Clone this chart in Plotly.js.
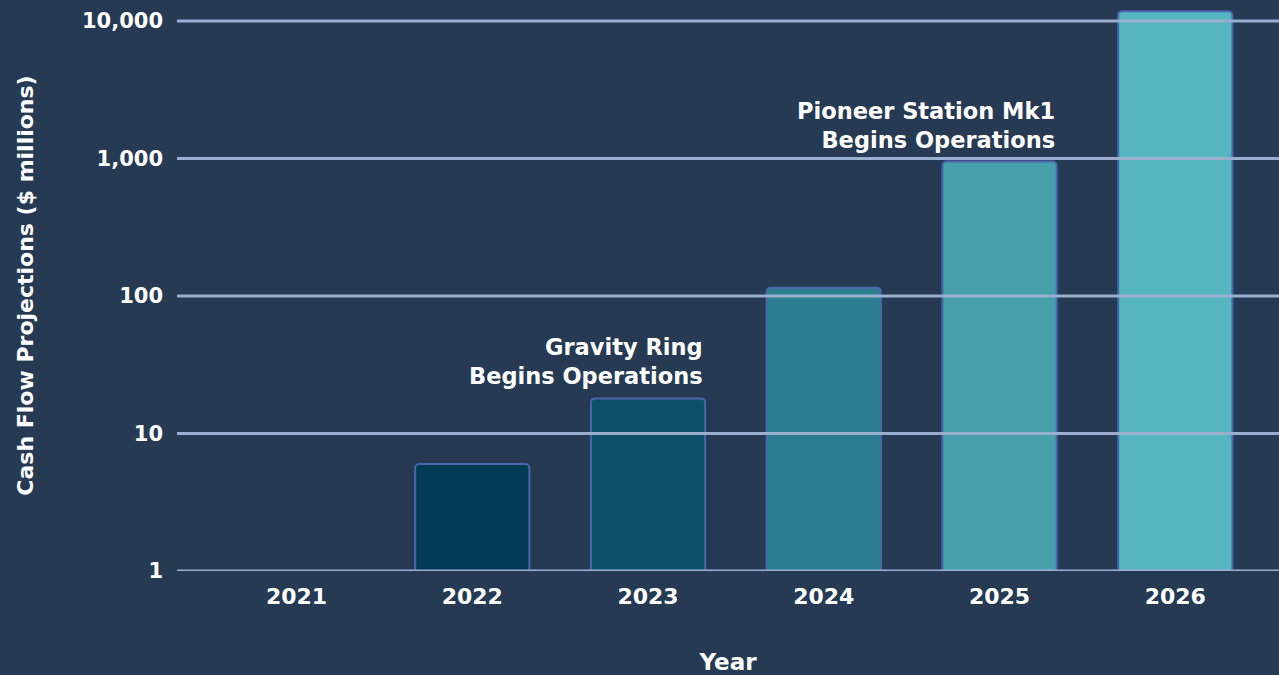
<!DOCTYPE html>
<html>
<head>
<meta charset="utf-8">
<script src="https://cdn.plot.ly/plotly-3.0.1.min.js"></script>
<style>html,body{margin:0;padding:0;background:#263a53;}#chart{width:1279px;height:675px;}</style>
</head>
<body>
<div id="chart"></div>
<script>
const years = ["2021", "2022", "2023", "2024", "2025", "2026"];
const cashFlow = [0, 6, 18, 115, 950, 11800];
const barColors = ["#013a52", "#023b53", "#0c5068", "#2b7d8f", "#45a0ac", "#56b6c0"];
const tickValues = [1, 10, 100, 1000, 10000];
const tickLabels = ["1", "10", "100", "1,000", "10,000"];
const milestoneYears = ["2023", "2025"];
const milestoneTexts = ["Gravity Ring<br>Begins Operations", "Pioneer Station Mk1<br>Begins Operations"];

const FONT = "DejaVu Sans, Open Sans, sans-serif";
const barWidth = 0.65;

const trace = {
  type: "bar",
  x: years,
  y: cashFlow,
  width: barWidth,
  marker: {
    color: barColors,
    line: {color: "#4d64b0", width: 2},
    cornerradius: 4
  },
  hoverinfo: "x+y"
};

const shapes = tickValues.map(v => ({
  type: "line", xref: "paper", yref: "y",
  x0: 0, x1: 1, y0: v, y1: v,
  line: {color: "#9aaed0", width: 3},
  layer: "above"
}));

const annotations = milestoneYears.map((yr, k) => {
  const i = years.indexOf(yr);
  return {
    xref: "x", yref: "y",
    x: i + barWidth / 2, y: Math.log10(cashFlow[i]),
    xanchor: "right", yanchor: "bottom", align: "right",
    yshift: 7,
    showarrow: false,
    text: "<b>" + milestoneTexts[k] + "</b>",
    font: {family: FONT, size: 22.5, color: "#ffffff"}
  };
});

const layout = {
  width: 1279, height: 675,
  paper_bgcolor: "#263a53",
  plot_bgcolor: "#263a53",
  margin: {l: 177, r: 0, t: 0, b: 104},
  showlegend: false,
  font: {family: FONT, color: "#ffffff"},
  xaxis: {
    type: "category",
    range: [-0.68, 5.59],
    showgrid: false, zeroline: false, showline: false,
    ticks: "",
    ticklabelstandoff: 10,
    tickfont: {family: FONT, size: 22, color: "#ffffff", weight: 700},
    title: {text: "<b>Year</b>", font: {family: FONT, size: 23, color: "#ffffff"}, standoff: 45}
  },
  yaxis: {
    type: "log",
    range: [0, 4.153],
    showgrid: false, zeroline: false, showline: false,
    tickvals: tickValues,
    ticktext: tickLabels,
    ticks: "",
    ticklabelstandoff: 13,
    tickfont: {family: FONT, size: 21, color: "#ffffff", weight: 700},
    title: {text: "<b>Cash Flow Projections ($ millions)</b>", font: {family: FONT, size: 22, color: "#ffffff"}, standoff: 42}
  },
  shapes: shapes,
  annotations: annotations
};

Plotly.newPlot("chart", [trace], layout, {displayModeBar: false, staticPlot: true});
</script>
</body>
</html>
